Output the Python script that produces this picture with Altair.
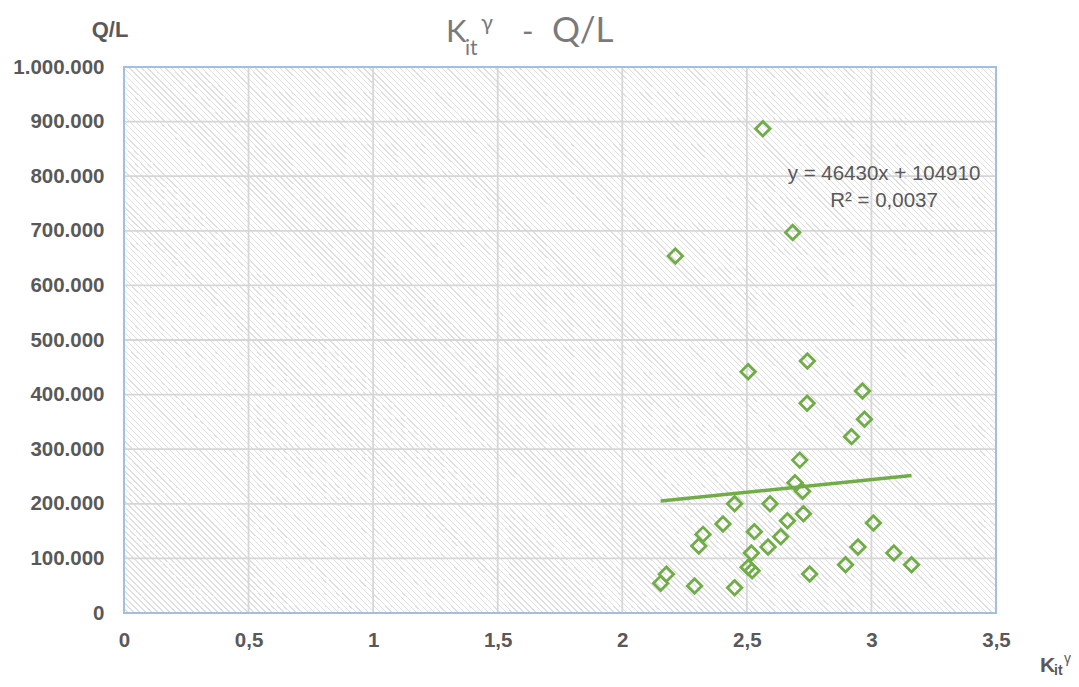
import altair as alt
import pandas as pd

# ---- data ----
kit = [2.505, 2.743, 2.964, 2.742, 2.972, 2.920, 2.712, 2.693, 2.724, 2.451,
       2.593, 2.727, 2.663, 3.008, 2.404, 2.324, 2.530, 2.636, 2.307, 2.585,
       2.946, 2.518, 3.090, 2.505, 2.521, 2.896, 3.161, 2.752, 2.177, 2.154,
       2.290, 2.451, 2.564, 2.684, 2.213]
ql = [442000, 461500, 406600, 384000, 355000, 323000, 280000, 238700, 222800, 200000,
      200000, 181900, 169000, 165000, 163000, 144000, 149000, 139700, 122700, 121000,
      121000, 110000, 110000, 83600, 77500, 88500, 88500, 71400, 70900, 54300,
      49400, 46400, 887000, 697000, 654000]

slope = 46430
intercept = 104910
r2_text = "R² = 0,0037"
eq_text = "y = 46430x + 104910"

x_ticks = [0, 0.5, 1, 1.5, 2, 2.5, 3, 3.5]
y_ticks = [0, 100000, 200000, 300000, 400000, 500000, 600000, 700000, 800000, 900000, 1000000]
x_grid = [0.5, 1, 1.5, 2, 2.5, 3]
y_grid = [100000, 200000, 300000, 400000, 500000, 600000, 700000, 800000, 900000]

W, H = 872, 546
GREEN = "#70ad47"
LABEL = "#595959"

pts = pd.DataFrame({"x": kit, "y": ql})
trend = pd.DataFrame({"x": [min(kit), max(kit)],
                      "y": [slope * min(kit) + intercept, slope * max(kit) + intercept]})
one = pd.DataFrame({"d": [0]})

xscale = alt.Scale(domain=[0, 3.5], nice=False, zero=False)
yscale = alt.Scale(domain=[0, 1000000], nice=False, zero=False)

xaxis = alt.Axis(values=x_ticks, grid=False, ticks=False, domain=False, title=None,
                 labelExpr="replace(format(datum.value, '~g'), '.', ',')",
                 labelFont="Liberation Sans", labelFontWeight="bold", labelFontSize=20.5,
                 labelColor=LABEL, labelPadding=17, labelFlush=False, labelOverlap=False)
yaxis = alt.Axis(values=y_ticks, grid=False, ticks=False, domain=False, title=None,
                 labelExpr="replace(replace(format(datum.value, ','), ',', '.'), ',', '.')",
                 labelFont="Liberation Sans", labelFontWeight="bold", labelFontSize=20.5,
                 labelColor=LABEL, labelPadding=20, labelFlush=False, labelOverlap=False)

# hatch background (diagonal stripes via a linear gradient on a square, clipped)
period = (6 / 2 ** 0.5) / (W * 2 ** 0.5)
stops = []
i = 0
while True:
    a = i * period
    b = a + period * 0.3
    c = a + period
    if c > 1:
        break
    stops += [alt.GradientStop(offset=a, color="#e0e0e0"),
              alt.GradientStop(offset=b, color="#e0e0e0"),
              alt.GradientStop(offset=b, color="#ffffff"),
              alt.GradientStop(offset=c, color="#ffffff")]
    i += 1
stops.append(alt.GradientStop(offset=1, color="#ffffff"))

hatch = alt.Chart(one).mark_rect(
    clip=True,
    fill=alt.LinearGradient(gradient="linear", stops=stops, x1=0, y1=1, x2=1, y2=0)
).encode(x=alt.value(0), x2=alt.value(W), y=alt.value(0), y2=alt.value(W))

vgrid = alt.Chart(pd.DataFrame({"x": x_grid})).mark_rule(
    color="#d6d6d6", strokeWidth=1.8
).encode(x=alt.X("x:Q", scale=xscale, axis=xaxis))

hgrid = alt.Chart(pd.DataFrame({"y": y_grid})).mark_rule(
    color="#d6d6d6", strokeWidth=1.8
).encode(y=alt.Y("y:Q", scale=yscale, axis=yaxis))

trend_line = alt.Chart(trend).mark_line(color=GREEN, strokeWidth=3.5).encode(
    x=alt.X("x:Q", scale=xscale, axis=xaxis),
    y=alt.Y("y:Q", scale=yscale, axis=yaxis))

points = alt.Chart(pts).mark_point(
    shape="diamond", filled=False, size=210, strokeWidth=2.8, color=GREEN, opacity=1
).encode(x=alt.X("x:Q", scale=xscale, axis=xaxis),
         y=alt.Y("y:Q", scale=yscale, axis=yaxis))

frame = alt.Chart(one).mark_rect(
    fill=None, stroke="#a3bfe0", strokeWidth=2
).encode(x=alt.value(0), x2=alt.value(W), y=alt.value(0), y2=alt.value(H))


def txt(s, x, y, size, weight="normal", color=LABEL, font="Liberation Sans",
        align="left", baseline="alphabetic"):
    return alt.Chart(one).mark_text(
        font=font, fontSize=size, fontWeight=weight, color=color,
        align=align, baseline=baseline
    ).encode(x=alt.value(x), y=alt.value(y), text=alt.value(s))


TITLE = "#7a7a7a"
texts = [
    # chart title
    txt("K", 322, -25, 31, color=TITLE, font="Lato"),
    txt("it", 341, -12, 21, color=TITLE, font="Lato"),
    txt("γ", 357, -37, 22, color=TITLE, font="Lato"),
    txt("-", 398, -25, 31, color=TITLE, font="Lato"),
    txt("Q/L", 428, -25, 35, color=TITLE, font="Lato"),
    # y axis title
    txt("Q/L", -14, -30, 22, weight="bold", align="center"),
    # x axis title
    txt("K", 916, 605, 21, weight="bold"),
    txt("it", 930, 608, 14, weight="bold"),
    txt("γ", 940, 596, 14, weight="normal"),
    # regression annotation
    txt(eq_text, 760, 107, 20.5, align="center", baseline="middle"),
    txt(r2_text, 760, 134, 20.5, align="center", baseline="middle"),
]

chart = alt.layer(hatch, vgrid, hgrid, trend_line, points, frame, *texts).properties(
    width=W, height=H,
    autosize=alt.AutoSizeParams(type="none"),
    padding={"left": 116, "top": 59, "right": 75, "bottom": 65},
    background="#ffffff",
).configure_view(stroke=None)

chart.save("out.html", embed_options={"renderer": "svg", "actions": False})
